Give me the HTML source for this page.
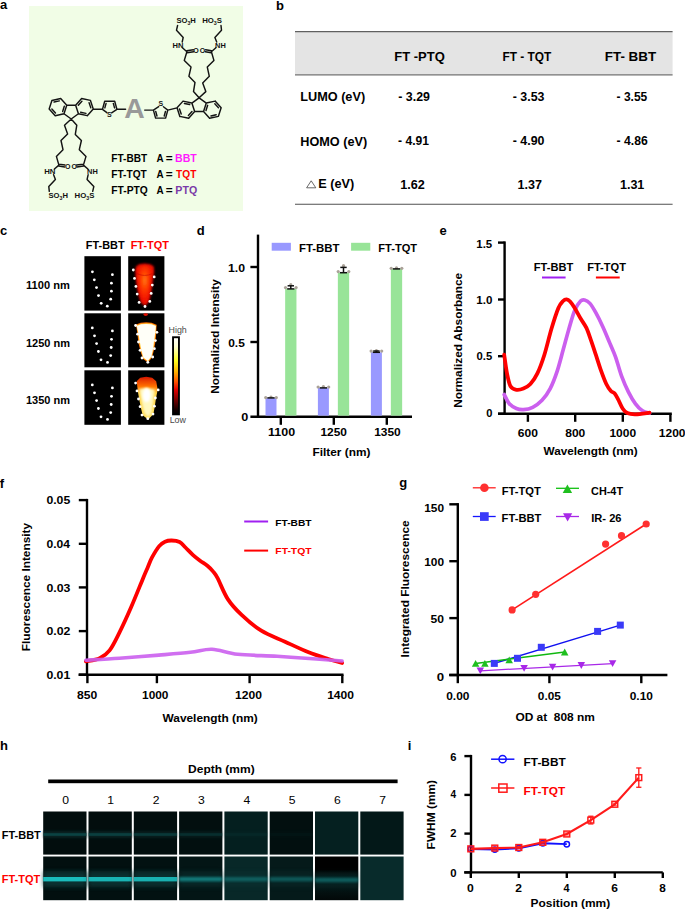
<!DOCTYPE html>
<html><head><meta charset="utf-8"><title>Figure</title>
<style>html,body{margin:0;padding:0;background:#fff;width:685px;height:910px;overflow:hidden;font-family:"Liberation Sans",sans-serif;}svg{display:block}</style>
</head><body>
<svg width="685" height="910" viewBox="0 0 685 910" font-family="Liberation Sans, sans-serif"><defs><filter id="bl1" x="-50%" y="-50%" width="200%" height="200%"><feGaussianBlur stdDeviation="2.2"/></filter><filter id="bl2" x="-50%" y="-50%" width="200%" height="200%"><feGaussianBlur stdDeviation="1.0"/></filter><filter id="bl3" x="-50%" y="-50%" width="200%" height="200%"><feGaussianBlur stdDeviation="0.5"/></filter><radialGradient id="g1100" cx="0.5" cy="0.38" r="0.55"><stop offset="0" stop-color="#ff7a10"/><stop offset="0.45" stop-color="#ff3a00"/><stop offset="1" stop-color="#f01000"/></radialGradient><linearGradient id="g1350" x1="0" y1="0" x2="0" y2="1"><stop offset="0" stop-color="#d81800"/><stop offset="0.22" stop-color="#ff7000"/><stop offset="0.38" stop-color="#ffd040"/><stop offset="1" stop-color="#ffe060"/></linearGradient><linearGradient id="cbar" x1="0" y1="0" x2="0" y2="1"><stop offset="0" stop-color="#ffffff"/><stop offset="0.12" stop-color="#ffffd0"/><stop offset="0.3" stop-color="#ffff20"/><stop offset="0.45" stop-color="#ffb000"/><stop offset="0.58" stop-color="#ff5000"/><stop offset="0.68" stop-color="#e00000"/><stop offset="0.82" stop-color="#700000"/><stop offset="0.95" stop-color="#100000"/><stop offset="1" stop-color="#000"/></linearGradient><linearGradient id="h1g0" x1="0" y1="0" x2="0" y2="1"><stop offset="0" stop-color="#020d0d"/><stop offset="1" stop-color="#020d0d"/></linearGradient><linearGradient id="h1g1" x1="0" y1="0" x2="0" y2="1"><stop offset="0" stop-color="#020d0d"/><stop offset="1" stop-color="#020d0d"/></linearGradient><linearGradient id="h1g2" x1="0" y1="0" x2="0" y2="1"><stop offset="0" stop-color="#020e0e"/><stop offset="1" stop-color="#020e0e"/></linearGradient><linearGradient id="h1g3" x1="0" y1="0" x2="0" y2="1"><stop offset="0" stop-color="#020f0f"/><stop offset="1" stop-color="#020f0f"/></linearGradient><linearGradient id="h1g4" x1="0" y1="0" x2="0" y2="1"><stop offset="0" stop-color="#041f1f"/><stop offset="1" stop-color="#041f1f"/></linearGradient><linearGradient id="h1g5" x1="0" y1="0" x2="0" y2="1"><stop offset="0" stop-color="#020f0f"/><stop offset="1" stop-color="#020f0f"/></linearGradient><linearGradient id="h1g6" x1="0" y1="0" x2="0" y2="1"><stop offset="0" stop-color="#052020"/><stop offset="1" stop-color="#052020"/></linearGradient><linearGradient id="h2g6" x1="0" y1="0" x2="0" y2="1"><stop offset="0" stop-color="#000"/><stop offset="0.3" stop-color="#000"/><stop offset="0.5" stop-color="#041a1a"/><stop offset="0.75" stop-color="#041414"/><stop offset="1" stop-color="#020808"/></linearGradient><linearGradient id="h1g7" x1="0" y1="0" x2="0" y2="1"><stop offset="0" stop-color="#031818"/><stop offset="1" stop-color="#031818"/></linearGradient></defs><text x="0.00" y="8.90" font-size="13" font-weight="bold" fill="#000" text-anchor="start" >a</text>
<text x="276.00" y="9.50" font-size="13" font-weight="bold" fill="#000" text-anchor="start" >b</text>
<text x="0.00" y="234.90" font-size="13" font-weight="bold" fill="#000" text-anchor="start" >c</text>
<text x="196.80" y="234.60" font-size="13" font-weight="bold" fill="#000" text-anchor="start" >d</text>
<text x="439.50" y="234.60" font-size="13" font-weight="bold" fill="#000" text-anchor="start" >e</text>
<text x="-0.20" y="487.60" font-size="13" font-weight="bold" fill="#000" text-anchor="start" >f</text>
<text x="399.20" y="487.40" font-size="13" font-weight="bold" fill="#000" text-anchor="start" >g</text>
<text x="0.00" y="750.10" font-size="13" font-weight="bold" fill="#000" text-anchor="start" >h</text>
<text x="407.80" y="750.20" font-size="13" font-weight="bold" fill="#000" text-anchor="start" >i</text>
<rect x="29.00" y="6.00" width="214.00" height="205.00" fill="#F1FDE6" />
<path d="M71.20,119.00L63.99,113.76 M63.99,113.76L66.75,105.29 M66.75,105.29L75.66,105.29 M75.66,105.29L78.41,113.76 M78.41,113.76L71.20,119.00 M64.01,113.78L66.75,105.21 M66.75,105.21L60.70,98.55 M60.70,98.55L51.90,100.46 M51.90,100.46L49.16,109.03 M49.16,109.03L55.21,115.69 M55.21,115.69L64.01,113.78 M75.63,105.28L78.45,113.83 M78.45,113.83L87.26,115.66 M87.26,115.66L93.26,108.95 M93.26,108.95L90.44,100.40 M90.44,100.40L81.63,98.57 M81.63,98.57L75.63,105.28 M58.90,165.10L54.40,169.00 M83.40,165.10L87.90,169.00 M62.65,111.46L64.30,106.31 M59.36,100.88L54.09,102.03 M51.85,109.01L55.48,113.01 M80.62,112.24L85.91,113.34 M90.79,107.87L89.10,102.74 M81.92,101.24L78.32,105.27 M102.50,109.30L104.70,101.30 M104.70,101.30L114.70,101.30 M114.70,101.30L116.90,109.30 M102.50,109.30L106.89,112.64 M116.90,109.30L111.62,112.80 M104.85,107.91L106.08,103.43 M113.32,103.43L114.55,107.91 M116.90,109.30L125.60,109.30 M93.26,108.95L102.50,109.30 M71.20,119.00L64.50,125.20L67.60,133.90L61.00,140.50L63.00,149.70L56.40,156.40L58.90,165.10 M71.20,119.00L76.80,125.20L75.30,134.40L81.40,140.50L79.30,149.70L86.00,156.40L83.40,165.10 M53.60,174.80L55.40,179.40L48.80,186.60L49.30,191.30 M88.10,174.80L87.10,179.40L93.80,186.60L92.70,191.30 M59.05,164.11L64.95,165.01 M58.75,166.09L64.65,166.99 M83.54,166.09L76.94,166.99 M83.26,164.11L76.66,165.01 M199.10,97.80L206.31,103.04 M206.31,103.04L203.56,111.51 M203.56,111.51L194.65,111.51 M194.65,111.51L191.89,103.04 M191.89,103.04L199.10,97.80 M206.29,103.02L203.55,111.59 M203.55,111.59L209.60,118.25 M209.60,118.25L218.40,116.34 M218.40,116.34L221.14,107.77 M221.14,107.77L215.09,101.11 M215.09,101.11L206.29,103.02 M194.67,111.52L191.85,102.97 M191.85,102.97L183.04,101.14 M183.04,101.14L177.04,107.85 M177.04,107.85L179.86,116.40 M179.86,116.40L188.67,118.23 M188.67,118.23L194.67,111.52 M211.40,51.70L215.90,47.80 M186.90,51.70L182.40,47.80 M207.65,105.34L206.00,110.49 M210.94,115.92L216.21,114.77 M218.45,107.79L214.82,103.79 M189.68,104.56L184.39,103.46 M179.51,108.93L181.20,114.06 M188.38,115.56L191.98,111.53 M167.80,110.10L165.60,118.10 M165.60,118.10L155.60,118.10 M155.60,118.10L153.40,110.10 M167.80,110.10L163.41,106.76 M153.40,110.10L158.68,106.60 M165.45,111.49L164.22,115.97 M156.98,115.97L155.75,111.49 M153.40,110.10L144.70,110.10 M177.04,107.85L167.80,110.10 M199.10,97.80L205.80,91.60L202.70,82.90L209.30,76.30L207.30,67.10L213.90,60.40L211.40,51.70 M199.10,97.80L193.50,91.60L195.00,82.40L188.90,76.30L191.00,67.10L184.30,60.40L186.90,51.70 M216.70,42.00L214.90,37.40L221.50,30.20L221.00,25.50 M182.20,42.00L183.20,37.40L176.50,30.20L177.60,25.50 M211.25,52.69L205.35,51.79 M211.55,50.71L205.65,49.81 M186.76,50.71L193.36,49.81 M187.04,52.69L193.64,51.79" fill="none" stroke="#141414" stroke-width="1.45" stroke-linecap="round" stroke-linejoin="round"/>
<text x="106.90" y="117.00" font-size="7.0" font-weight="bold" fill="#141414" textLength="4.67" lengthAdjust="spacingAndGlyphs" >S</text>
<text x="158.50" y="105.90" font-size="7.0" font-weight="bold" fill="#141414" textLength="4.67" lengthAdjust="spacingAndGlyphs" >S</text>
<text x="44.17" y="173.90" font-size="7.1" font-weight="bold" fill="#111" textLength="11.25" lengthAdjust="spacingAndGlyphs" >HN</text>
<text x="87.10" y="173.90" font-size="7.1" font-weight="bold" fill="#111" textLength="10.69" lengthAdjust="spacingAndGlyphs" >NH</text>
<text x="65.12" y="169.00" font-size="7.6" font-weight="bold" fill="#111" textLength="5.48" lengthAdjust="spacingAndGlyphs" >O</text>
<text x="71.62" y="169.00" font-size="7.6" font-weight="bold" fill="#111" textLength="5.48" lengthAdjust="spacingAndGlyphs" >O</text>
<text x="48.50" y="197.80" font-size="7.4" font-weight="bold" fill="#111" textLength="19.40" lengthAdjust="spacingAndGlyphs">SO<tspan font-size="5.03" dy="1.7">3</tspan><tspan dy="-1.7">H</tspan></text>
<text x="74.60" y="197.80" font-size="7.4" font-weight="bold" fill="#111" textLength="19.80" lengthAdjust="spacingAndGlyphs">HO<tspan font-size="5.03" dy="1.7">3</tspan><tspan dy="-1.7">S</tspan></text>
<text x="172.49" y="48.00" font-size="7.1" font-weight="bold" fill="#111" textLength="10.92" lengthAdjust="spacingAndGlyphs" >HN</text>
<text x="215.10" y="48.00" font-size="7.1" font-weight="bold" fill="#111" textLength="10.69" lengthAdjust="spacingAndGlyphs" >NH</text>
<text x="193.22" y="52.80" font-size="7.6" font-weight="bold" fill="#111" textLength="5.48" lengthAdjust="spacingAndGlyphs" >O</text>
<text x="199.72" y="52.80" font-size="7.6" font-weight="bold" fill="#111" textLength="5.48" lengthAdjust="spacingAndGlyphs" >O</text>
<text x="176.40" y="23.00" font-size="7.4" font-weight="bold" fill="#111" textLength="19.40" lengthAdjust="spacingAndGlyphs">SO<tspan font-size="5.03" dy="1.7">3</tspan><tspan dy="-1.7">H</tspan></text>
<text x="202.20" y="23.00" font-size="7.4" font-weight="bold" fill="#111" textLength="19.80" lengthAdjust="spacingAndGlyphs">HO<tspan font-size="5.03" dy="1.7">3</tspan><tspan dy="-1.7">S</tspan></text>
<text x="124.19" y="118.40" font-size="27.5" font-weight="bold" fill="#999999" textLength="20.48" lengthAdjust="spacingAndGlyphs" >A</text>
<text x="111.32" y="161.70" font-size="10.2" font-weight="bold" fill="#000" textLength="35.78" lengthAdjust="spacingAndGlyphs" >FT-BBT</text>
<text x="156.55" y="161.70" font-size="10.2" font-weight="bold" fill="#000" textLength="7.11" lengthAdjust="spacingAndGlyphs" >A</text>
<text x="165.80" y="161.70" font-size="10.2" font-weight="bold" fill="#000" textLength="6.89" lengthAdjust="spacingAndGlyphs" >=</text>
<text x="175.09" y="161.70" font-size="10.2" font-weight="bold" fill="#ff1aff" textLength="21.72" lengthAdjust="spacingAndGlyphs" >BBT</text>
<text x="111.32" y="177.70" font-size="10.2" font-weight="bold" fill="#000" textLength="35.40" lengthAdjust="spacingAndGlyphs" >FT-TQT</text>
<text x="156.55" y="177.70" font-size="10.2" font-weight="bold" fill="#000" textLength="7.11" lengthAdjust="spacingAndGlyphs" >A</text>
<text x="165.80" y="177.70" font-size="10.2" font-weight="bold" fill="#000" textLength="6.89" lengthAdjust="spacingAndGlyphs" >=</text>
<text x="176.10" y="177.70" font-size="10.2" font-weight="bold" fill="#ff0000" textLength="20.22" lengthAdjust="spacingAndGlyphs" >TQT</text>
<text x="111.31" y="193.70" font-size="10.2" font-weight="bold" fill="#000" textLength="36.43" lengthAdjust="spacingAndGlyphs" >FT-PTQ</text>
<text x="156.55" y="193.70" font-size="10.2" font-weight="bold" fill="#000" textLength="7.11" lengthAdjust="spacingAndGlyphs" >A</text>
<text x="165.80" y="193.70" font-size="10.2" font-weight="bold" fill="#000" textLength="6.89" lengthAdjust="spacingAndGlyphs" >=</text>
<text x="175.39" y="193.70" font-size="10.2" font-weight="bold" fill="#7a3aa8" textLength="21.77" lengthAdjust="spacingAndGlyphs" >PTQ</text>
<rect x="295.00" y="32.00" width="377.60" height="42.50" fill="#e4e4e4" />
<line x1="295.00" y1="31.60" x2="672.60" y2="31.60" stroke="#606060" stroke-width="1.4" />
<line x1="295.00" y1="74.90" x2="672.60" y2="74.90" stroke="#707070" stroke-width="1.4" />
<line x1="295.00" y1="204.20" x2="672.60" y2="204.20" stroke="#505050" stroke-width="1.1" />
<text x="394.32" y="61.30" font-size="12.5" font-weight="bold" fill="#000" textLength="50.44" lengthAdjust="spacingAndGlyphs" >FT -PTQ</text>
<text x="502.50" y="61.30" font-size="12.5" font-weight="bold" fill="#000" textLength="48.82" lengthAdjust="spacingAndGlyphs" >FT - TQT</text>
<text x="604.80" y="61.30" font-size="12.5" font-weight="bold" fill="#000" textLength="51.34" lengthAdjust="spacingAndGlyphs" >FT- BBT</text>
<text x="300.24" y="101.30" font-size="12.5" font-weight="bold" fill="#000" textLength="64.90" lengthAdjust="spacingAndGlyphs" >LUMO (eV)</text>
<text x="300.24" y="145.50" font-size="12.5" font-weight="bold" fill="#000" textLength="66.89" lengthAdjust="spacingAndGlyphs" >HOMO (eV)</text>
<path d="M306.6,187.8 L311.2,180.8 L315.8,187.8 Z" fill="none" stroke="#444" stroke-width="0.8" />
<text x="318.34" y="188.10" font-size="12.5" font-weight="bold" fill="#000" textLength="35.91" lengthAdjust="spacingAndGlyphs" >E (eV)</text>
<text x="398.30" y="101.20" font-size="12.3" font-weight="bold" fill="#000" textLength="31.66" lengthAdjust="spacingAndGlyphs" >- 3.29</text>
<text x="512.80" y="101.20" font-size="12.3" font-weight="bold" fill="#000" textLength="31.66" lengthAdjust="spacingAndGlyphs" >- 3.53</text>
<text x="616.62" y="101.20" font-size="12.3" font-weight="bold" fill="#000" textLength="30.64" lengthAdjust="spacingAndGlyphs" >- 3.55</text>
<text x="398.12" y="145.40" font-size="12.3" font-weight="bold" fill="#000" textLength="30.94" lengthAdjust="spacingAndGlyphs" >- 4.91</text>
<text x="512.80" y="145.40" font-size="12.3" font-weight="bold" fill="#000" textLength="31.72" lengthAdjust="spacingAndGlyphs" >- 4.90</text>
<text x="616.61" y="145.40" font-size="12.3" font-weight="bold" fill="#000" textLength="31.14" lengthAdjust="spacingAndGlyphs" >- 4.86</text>
<text x="400.21" y="188.60" font-size="12.3" font-weight="bold" fill="#000" textLength="24.58" lengthAdjust="spacingAndGlyphs" >1.62</text>
<text x="517.52" y="188.60" font-size="12.3" font-weight="bold" fill="#000" textLength="24.44" lengthAdjust="spacingAndGlyphs" >1.37</text>
<text x="619.91" y="188.60" font-size="12.3" font-weight="bold" fill="#000" textLength="24.45" lengthAdjust="spacingAndGlyphs" >1.31</text>
<text x="26.01" y="289.00" font-size="10.6" font-weight="bold" fill="#000" textLength="43.79" lengthAdjust="spacingAndGlyphs" >1100 nm</text>
<text x="25.91" y="347.10" font-size="10.6" font-weight="bold" fill="#000" textLength="44.08" lengthAdjust="spacingAndGlyphs" >1250 nm</text>
<text x="25.91" y="403.70" font-size="10.6" font-weight="bold" fill="#000" textLength="44.08" lengthAdjust="spacingAndGlyphs" >1350 nm</text>
<text x="85.86" y="249.30" font-size="10.3" font-weight="bold" fill="#000" textLength="38.74" lengthAdjust="spacingAndGlyphs" >FT-BBT</text>
<text x="130.66" y="249.30" font-size="10.3" font-weight="bold" fill="#ff0000" textLength="38.27" lengthAdjust="spacingAndGlyphs" >FT-TQT</text>
<rect x="84.40" y="256.20" width="36.50" height="54.40" fill="#000" />
<circle cx="92.40" cy="271.80" r="1.4" fill="#fff"/>
<circle cx="94.30" cy="279.80" r="1.4" fill="#fff"/>
<circle cx="96.50" cy="287.60" r="1.4" fill="#fff"/>
<circle cx="98.50" cy="295.60" r="1.4" fill="#fff"/>
<circle cx="101.20" cy="303.30" r="1.4" fill="#fff"/>
<circle cx="107.30" cy="306.20" r="1.4" fill="#fff"/>
<circle cx="110.70" cy="299.20" r="1.4" fill="#fff"/>
<circle cx="111.40" cy="291.20" r="1.4" fill="#fff"/>
<circle cx="111.40" cy="283.20" r="1.4" fill="#fff"/>
<circle cx="112.40" cy="274.70" r="1.4" fill="#fff"/>
<rect x="128.20" y="256.20" width="36.20" height="54.40" fill="#000" />
<clipPath id="cp0"><rect x="128.2" y="256.2" width="36.20000000000002" height="54.400000000000034"/></clipPath>
<g clip-path="url(#cp0)"><path d="M135.20,270.20 L136.20,266.20 L139.20,264.20 L144.70,263.40 L150.20,264.20 L153.70,266.20 L154.20,271.20 L153.20,278.20 L151.20,293.20 L149.20,301.20 L145.20,306.20 L140.70,302.70 L138.20,294.20 L136.70,286.20 L135.70,278.20 Z" fill="#e80a00" filter="url(#bl2)"/><path d="M137.20,271.20 L138.20,267.70 L141.20,266.20 L144.70,265.80 L148.20,266.20 L151.70,267.70 L152.20,272.20 L150.70,279.20 L149.20,292.20 L147.40,300.20 L145.20,303.70 L142.50,300.20 L140.20,293.20 L138.70,286.20 L137.70,278.20 Z" fill="url(#g1100)" filter="url(#bl2)"/><path d="M137.20,273.70 Q144.70,277.20 152.20,273.70" fill="none" stroke="#c00800" stroke-width="0.9" opacity="0.6" filter="url(#bl3)"/></g>
<circle cx="133.30" cy="270.00" r="1.4" fill="#fff"/>
<circle cx="134.50" cy="278.40" r="1.4" fill="#fff"/>
<circle cx="135.90" cy="286.40" r="1.4" fill="#fff"/>
<circle cx="137.20" cy="294.10" r="1.4" fill="#fff"/>
<circle cx="139.10" cy="302.40" r="1.4" fill="#fff"/>
<circle cx="145.00" cy="306.50" r="1.4" fill="#fff"/>
<circle cx="149.80" cy="301.40" r="1.4" fill="#fff"/>
<circle cx="151.20" cy="293.40" r="1.4" fill="#fff"/>
<circle cx="152.30" cy="285.10" r="1.4" fill="#fff"/>
<circle cx="154.20" cy="276.90" r="1.4" fill="#fff"/>
<rect x="84.40" y="313.30" width="36.50" height="54.00" fill="#000" />
<circle cx="92.30" cy="327.90" r="1.4" fill="#fff"/>
<circle cx="94.50" cy="335.80" r="1.4" fill="#fff"/>
<circle cx="96.60" cy="343.60" r="1.4" fill="#fff"/>
<circle cx="98.40" cy="351.50" r="1.4" fill="#fff"/>
<circle cx="101.00" cy="359.80" r="1.4" fill="#fff"/>
<circle cx="107.50" cy="362.40" r="1.4" fill="#fff"/>
<circle cx="110.70" cy="355.60" r="1.4" fill="#fff"/>
<circle cx="111.20" cy="347.50" r="1.4" fill="#fff"/>
<circle cx="111.50" cy="339.30" r="1.4" fill="#fff"/>
<circle cx="112.40" cy="330.90" r="1.4" fill="#fff"/>
<rect x="128.20" y="313.30" width="36.20" height="54.00" fill="#000" />
<clipPath id="cp1"><rect x="128.2" y="313.3" width="36.20000000000002" height="54.0"/></clipPath>
<g clip-path="url(#cp1)"><ellipse cx="145.70" cy="314.50" rx="2.2" ry="1.4" fill="#e01000" filter="url(#bl3)"/><path d="M135.93,324.55 L140.71,322.78 L146.15,322.30 L151.61,322.75 L156.62,324.73 L156.33,331.67 L155.60,340.69 L154.03,350.03 L151.88,357.83 L148.00,362.50 L143.08,359.07 L140.59,351.68 L138.32,342.53 L137.39,333.25 Z" fill="#ff6a00" filter="url(#bl3)"/><path d="M136.42,325.31 L140.98,323.63 L146.18,323.20 L151.38,323.62 L156.16,325.50 L155.69,332.31 L154.70,340.75 L153.45,349.34 L151.61,356.97 L147.94,361.60 L143.26,358.19 L141.04,350.90 L139.21,342.40 L138.07,333.84 Z" fill="#ffd040" filter="url(#bl3)"/><path d="M136.80,325.90 L141.20,324.30 L146.20,323.90 L151.20,324.30 L155.80,326.10 L155.20,332.80 L154.00,340.80 L153.00,348.80 L151.40,356.30 L147.90,360.90 L143.40,357.50 L141.40,350.30 L139.90,342.30 L138.60,334.30 Z" fill="#fffff8" filter="url(#bl3)"/></g>
<circle cx="135.60" cy="325.50" r="1.4" fill="#fff"/>
<circle cx="137.60" cy="334.20" r="1.4" fill="#fff"/>
<circle cx="138.50" cy="342.00" r="1.4" fill="#fff"/>
<circle cx="140.10" cy="350.30" r="1.4" fill="#fff"/>
<circle cx="142.00" cy="358.00" r="1.4" fill="#fff"/>
<circle cx="147.80" cy="362.30" r="1.4" fill="#fff"/>
<circle cx="152.70" cy="357.00" r="1.4" fill="#fff"/>
<circle cx="154.40" cy="348.70" r="1.4" fill="#fff"/>
<circle cx="155.40" cy="340.60" r="1.4" fill="#fff"/>
<circle cx="156.90" cy="332.30" r="1.4" fill="#fff"/>
<rect x="84.40" y="370.30" width="36.50" height="54.50" fill="#000" />
<circle cx="92.30" cy="384.90" r="1.4" fill="#fff"/>
<circle cx="94.50" cy="392.80" r="1.4" fill="#fff"/>
<circle cx="96.60" cy="400.60" r="1.4" fill="#fff"/>
<circle cx="98.40" cy="408.50" r="1.4" fill="#fff"/>
<circle cx="101.00" cy="416.80" r="1.4" fill="#fff"/>
<circle cx="107.50" cy="419.40" r="1.4" fill="#fff"/>
<circle cx="110.70" cy="412.60" r="1.4" fill="#fff"/>
<circle cx="111.20" cy="404.50" r="1.4" fill="#fff"/>
<circle cx="111.50" cy="396.30" r="1.4" fill="#fff"/>
<circle cx="112.40" cy="387.90" r="1.4" fill="#fff"/>
<rect x="128.20" y="370.30" width="36.20" height="54.50" fill="#000" />
<clipPath id="cp2"><rect x="128.2" y="370.3" width="36.20000000000002" height="54.5"/></clipPath>
<g clip-path="url(#cp2)"><path d="M136.70,381.30 L140.20,377.80 L146.20,376.80 L152.20,377.80 L156.20,381.30 L157.70,389.80 L156.00,398.00 L154.80,406.20 L153.40,414.10 L148.20,419.50 L142.70,415.30 L140.70,406.90 L139.20,399.00 L137.80,390.90 Z" fill="url(#g1350)" filter="url(#bl3)"/><path d="M139.20,389.30 L146.20,387.80 L154.70,389.80 L153.70,398.30 L152.60,406.30 L151.20,413.30 L148.00,416.80 L144.50,413.30 L142.70,406.30 L141.20,398.80 Z" fill="#fff8c0" filter="url(#bl2)"/><ellipse cx="146.70" cy="395.30" rx="4" ry="7" fill="#ffffff" filter="url(#bl2)"/></g>
<circle cx="135.60" cy="383.10" r="1.4" fill="#fff"/>
<circle cx="137.00" cy="390.90" r="1.4" fill="#fff"/>
<circle cx="138.50" cy="399.00" r="1.4" fill="#fff"/>
<circle cx="140.10" cy="406.70" r="1.4" fill="#fff"/>
<circle cx="142.00" cy="415.10" r="1.4" fill="#fff"/>
<circle cx="147.80" cy="418.70" r="1.4" fill="#fff"/>
<circle cx="153.00" cy="414.10" r="1.4" fill="#fff"/>
<circle cx="154.40" cy="406.20" r="1.4" fill="#fff"/>
<circle cx="155.40" cy="398.00" r="1.4" fill="#fff"/>
<circle cx="158.20" cy="389.90" r="1.4" fill="#fff"/>
<rect x="173.05" y="337.25" width="5.90" height="77.10" fill="url(#cbar)" stroke="#000" stroke-width="1.9"/>
<text x="168.57" y="333.00" font-size="8.7"  fill="#4a4a4a" textLength="18.20" lengthAdjust="spacingAndGlyphs" >High</text>
<text x="169.67" y="423.20" font-size="8.7"  fill="#4a4a4a" textLength="16.31" lengthAdjust="spacingAndGlyphs" >Low</text>
<line x1="258.00" y1="234.60" x2="258.00" y2="418.00" stroke="#000" stroke-width="2.4" />
<line x1="250.40" y1="416.80" x2="412.00" y2="416.80" stroke="#000" stroke-width="2.4" />
<line x1="250.40" y1="267.00" x2="257.80" y2="267.00" stroke="#000" stroke-width="2.4" />
<line x1="250.40" y1="342.00" x2="257.80" y2="342.00" stroke="#000" stroke-width="2.4" />
<text x="227.93" y="272.30" font-size="10.8" font-weight="bold" fill="#000" textLength="17.06" lengthAdjust="spacingAndGlyphs" >1.0</text>
<text x="228.22" y="346.50" font-size="10.8" font-weight="bold" fill="#000" textLength="16.61" lengthAdjust="spacingAndGlyphs" >0.5</text>
<text x="241.39" y="420.50" font-size="10.8" font-weight="bold" fill="#000" textLength="7.03" lengthAdjust="spacingAndGlyphs" >0</text>
<text x="0" y="0" font-size="11.8" font-weight="bold" fill="#000" textLength="114.45" lengthAdjust="spacingAndGlyphs" transform="translate(218.60,393.69) rotate(-90)">Normalized Intensity</text>
<rect x="265.50" y="397.90" width="11.00" height="17.70" fill="#9999ff" />
<circle cx="265.70" cy="397.60" r="1.6" fill="#aaa298"/>
<circle cx="271.00" cy="397.00" r="1.6" fill="#aaa298"/>
<circle cx="276.30" cy="397.60" r="1.6" fill="#aaa298"/>
<line x1="267.40" y1="397.90" x2="274.60" y2="397.90" stroke="#111" stroke-width="1.5" />
<rect x="317.90" y="387.90" width="11.00" height="27.70" fill="#9999ff" />
<circle cx="318.10" cy="387.00" r="1.6" fill="#aaa298"/>
<circle cx="323.40" cy="386.50" r="1.6" fill="#aaa298"/>
<circle cx="328.70" cy="387.00" r="1.6" fill="#aaa298"/>
<line x1="319.80" y1="387.90" x2="327.00" y2="387.90" stroke="#111" stroke-width="1.5" />
<rect x="370.90" y="352.30" width="11.00" height="63.30" fill="#9999ff" />
<circle cx="371.10" cy="351.10" r="1.6" fill="#aaa298"/>
<circle cx="376.40" cy="350.70" r="1.6" fill="#aaa298"/>
<circle cx="381.70" cy="351.10" r="1.6" fill="#aaa298"/>
<line x1="372.80" y1="352.30" x2="380.00" y2="352.30" stroke="#111" stroke-width="1.5" />
<line x1="376.40" y1="352.30" x2="376.40" y2="351.00" stroke="#111" stroke-width="1.5" />
<line x1="373.20" y1="351.00" x2="379.60" y2="351.00" stroke="#111" stroke-width="1.5" />
<rect x="285.15" y="288.90" width="11.30" height="126.70" fill="#98e498" />
<circle cx="285.50" cy="287.60" r="1.6" fill="#aaa298"/>
<circle cx="290.80" cy="284.70" r="1.6" fill="#aaa298"/>
<circle cx="296.10" cy="287.60" r="1.6" fill="#aaa298"/>
<line x1="287.20" y1="288.90" x2="294.40" y2="288.90" stroke="#111" stroke-width="1.5" />
<line x1="290.80" y1="288.90" x2="290.80" y2="285.80" stroke="#111" stroke-width="1.5" />
<line x1="287.60" y1="285.80" x2="294.00" y2="285.80" stroke="#111" stroke-width="1.5" />
<rect x="337.85" y="272.70" width="11.30" height="142.90" fill="#98e498" />
<circle cx="338.20" cy="271.60" r="1.6" fill="#aaa298"/>
<circle cx="343.50" cy="265.70" r="1.6" fill="#aaa298"/>
<circle cx="348.80" cy="271.60" r="1.6" fill="#aaa298"/>
<line x1="339.90" y1="272.70" x2="347.10" y2="272.70" stroke="#111" stroke-width="1.5" />
<line x1="343.50" y1="272.70" x2="343.50" y2="267.40" stroke="#111" stroke-width="1.5" />
<line x1="340.30" y1="267.40" x2="346.70" y2="267.40" stroke="#111" stroke-width="1.5" />
<rect x="390.85" y="268.90" width="11.30" height="146.70" fill="#98e498" />
<circle cx="391.20" cy="268.30" r="1.6" fill="#aaa298"/>
<circle cx="396.50" cy="267.90" r="1.6" fill="#aaa298"/>
<circle cx="401.80" cy="268.30" r="1.6" fill="#aaa298"/>
<line x1="392.90" y1="268.90" x2="400.10" y2="268.90" stroke="#111" stroke-width="1.5" />
<line x1="280.80" y1="418.00" x2="280.80" y2="424.80" stroke="#000" stroke-width="2.4" />
<line x1="333.80" y1="418.00" x2="333.80" y2="424.80" stroke="#000" stroke-width="2.4" />
<line x1="386.80" y1="418.00" x2="386.80" y2="424.80" stroke="#000" stroke-width="2.4" />
<text x="268.12" y="436.40" font-size="11" font-weight="bold" fill="#000" textLength="27.00" lengthAdjust="spacingAndGlyphs" >1100</text>
<text x="320.46" y="436.40" font-size="11" font-weight="bold" fill="#000" textLength="26.44" lengthAdjust="spacingAndGlyphs" >1250</text>
<text x="374.15" y="436.40" font-size="11" font-weight="bold" fill="#000" textLength="26.55" lengthAdjust="spacingAndGlyphs" >1350</text>
<text x="312.50" y="455.50" font-size="11.3" font-weight="bold" fill="#000" textLength="57.91" lengthAdjust="spacingAndGlyphs" >Filter (nm)</text>
<rect x="271.70" y="242.80" width="19.20" height="7.90" fill="#9999ff" />
<text x="298.93" y="251.70" font-size="11" font-weight="bold" fill="#000" textLength="40.58" lengthAdjust="spacingAndGlyphs" >FT-BBT</text>
<rect x="351.10" y="242.80" width="19.20" height="7.90" fill="#98e498" />
<text x="378.35" y="251.70" font-size="11" font-weight="bold" fill="#000" textLength="38.78" lengthAdjust="spacingAndGlyphs" >FT-TQT</text>
<line x1="504.60" y1="241.40" x2="504.60" y2="415.00" stroke="#000" stroke-width="2.4" />
<line x1="498.00" y1="413.80" x2="671.80" y2="413.80" stroke="#000" stroke-width="2.4" />
<line x1="498.00" y1="242.60" x2="504.60" y2="242.60" stroke="#000" stroke-width="2.4" />
<text x="476.28" y="247.60" font-size="10.8" font-weight="bold" fill="#000" textLength="15.93" lengthAdjust="spacingAndGlyphs" >1.5</text>
<line x1="498.00" y1="299.50" x2="504.60" y2="299.50" stroke="#000" stroke-width="2.4" />
<text x="476.28" y="303.70" font-size="10.8" font-weight="bold" fill="#000" textLength="16.09" lengthAdjust="spacingAndGlyphs" >1.0</text>
<line x1="498.00" y1="356.20" x2="504.60" y2="356.20" stroke="#000" stroke-width="2.4" />
<text x="476.55" y="360.10" font-size="10.8" font-weight="bold" fill="#000" textLength="15.66" lengthAdjust="spacingAndGlyphs" >0.5</text>
<line x1="498.00" y1="413.80" x2="504.60" y2="413.80" stroke="#000" stroke-width="2.4" />
<text x="486.15" y="417.00" font-size="10.8" font-weight="bold" fill="#000" textLength="6.21" lengthAdjust="spacingAndGlyphs" >0</text>
<line x1="527.90" y1="413.80" x2="527.90" y2="421.80" stroke="#000" stroke-width="2.4" />
<text x="517.85" y="436.90" font-size="10.8" font-weight="bold" fill="#000" textLength="20.15" lengthAdjust="spacingAndGlyphs" >600</text>
<line x1="575.20" y1="413.80" x2="575.20" y2="421.80" stroke="#000" stroke-width="2.4" />
<text x="565.21" y="436.90" font-size="10.8" font-weight="bold" fill="#000" textLength="20.08" lengthAdjust="spacingAndGlyphs" >800</text>
<line x1="622.80" y1="413.80" x2="622.80" y2="421.80" stroke="#000" stroke-width="2.4" />
<text x="609.45" y="436.90" font-size="10.8" font-weight="bold" fill="#000" textLength="26.65" lengthAdjust="spacingAndGlyphs" >1000</text>
<line x1="670.40" y1="413.80" x2="670.40" y2="421.80" stroke="#000" stroke-width="2.4" />
<text x="658.85" y="436.90" font-size="10.8" font-weight="bold" fill="#000" textLength="26.65" lengthAdjust="spacingAndGlyphs" >1200</text>
<text x="543.50" y="454.80" font-size="11.3" font-weight="bold" fill="#000" textLength="94.20" lengthAdjust="spacingAndGlyphs" >Wavelength (nm)</text>
<text x="0" y="0" font-size="11.8" font-weight="bold" fill="#000" textLength="134.99" lengthAdjust="spacingAndGlyphs" transform="translate(461.60,407.80) rotate(-90)">Normalized Absorbance</text>
<path d="M504.20,394.50 C505.05,396.05 507.27,401.47 509.30,403.80 C511.33,406.13 514.05,407.53 516.40,408.50 C518.75,409.47 520.68,409.80 523.40,409.60 C526.12,409.40 529.60,408.85 532.70,407.30 C535.80,405.75 539.08,403.42 542.00,400.30 C544.92,397.18 547.67,393.47 550.20,388.60 C552.73,383.73 555.05,377.52 557.20,371.10 C559.35,364.68 561.15,357.12 563.10,350.10 C565.05,343.08 566.97,335.62 568.90,329.00 C570.83,322.38 572.75,315.07 574.70,310.40 C576.65,305.73 578.95,302.73 580.60,301.00 C582.25,299.27 583.05,299.60 584.60,300.00 C586.15,300.40 588.03,301.28 589.90,303.40 C591.77,305.52 593.65,308.82 595.80,312.70 C597.95,316.58 600.47,321.63 602.80,326.70 C605.13,331.77 607.67,338.03 609.80,343.10 C611.93,348.17 613.65,351.65 615.60,357.10 C617.55,362.55 619.35,369.97 621.50,375.80 C623.65,381.63 626.17,387.43 628.50,392.10 C630.83,396.77 633.17,400.68 635.50,403.80 C637.83,406.92 640.17,409.25 642.50,410.80 C644.83,412.35 648.33,412.72 649.50,413.10" fill="none" stroke="#cb5fee" stroke-width="3.7" stroke-linejoin="round" stroke-linecap="round"/>
<path d="M504.20,354.70 C504.67,357.82 505.95,368.13 507.00,373.40 C508.05,378.67 508.93,383.57 510.50,386.30 C512.07,389.03 514.25,389.42 516.40,389.80 C518.55,390.18 521.07,389.57 523.40,388.60 C525.73,387.63 528.07,386.53 530.40,384.00 C532.73,381.47 535.07,378.28 537.40,373.40 C539.73,368.52 542.07,362.10 544.40,354.70 C546.73,347.30 549.07,336.78 551.40,329.00 C553.73,321.22 556.45,312.67 558.40,308.00 C560.35,303.33 561.73,302.43 563.10,301.00 C564.47,299.57 565.43,299.32 566.60,299.40 C567.77,299.48 568.75,300.07 570.10,301.50 C571.45,302.93 572.95,305.17 574.70,308.00 C576.45,310.83 578.65,315.18 580.60,318.50 C582.55,321.82 584.65,324.20 586.40,327.90 C588.15,331.60 589.53,336.23 591.10,340.70 C592.67,345.17 594.25,350.02 595.80,354.70 C597.35,359.38 598.65,363.92 600.40,368.80 C602.15,373.68 604.55,380.30 606.30,384.00 C608.05,387.70 609.53,389.45 610.90,391.00 C612.27,392.55 613.32,391.95 614.50,393.30 C615.68,394.65 616.65,396.57 618.00,399.10 C619.35,401.63 621.05,406.17 622.60,408.50 C624.15,410.83 625.15,412.13 627.30,413.10 C629.45,414.07 631.80,414.37 635.50,414.30 C639.20,414.23 647.17,412.97 649.50,412.70" fill="none" stroke="#ff0000" stroke-width="3.8" stroke-linejoin="round" stroke-linecap="round"/>
<text x="533.85" y="270.60" font-size="10.5" font-weight="bold" fill="#000" textLength="39.46" lengthAdjust="spacingAndGlyphs" >FT-BBT</text>
<text x="587.15" y="270.60" font-size="10.5" font-weight="bold" fill="#000" textLength="38.78" lengthAdjust="spacingAndGlyphs" >FT-TQT</text>
<line x1="542.00" y1="277.50" x2="565.60" y2="277.50" stroke="#a020f0" stroke-width="2.0" />
<line x1="595.90" y1="277.50" x2="619.70" y2="277.50" stroke="#ff0000" stroke-width="2.0" />
<line x1="87.00" y1="498.90" x2="87.00" y2="675.90" stroke="#000" stroke-width="2.4" />
<line x1="78.60" y1="674.70" x2="343.50" y2="674.70" stroke="#000" stroke-width="2.4" />
<line x1="78.80" y1="500.10" x2="87.00" y2="500.10" stroke="#000" stroke-width="2.4" />
<text x="46.41" y="504.30" font-size="10.8" font-weight="bold" fill="#000" textLength="23.84" lengthAdjust="spacingAndGlyphs" >0.05</text>
<line x1="78.80" y1="543.80" x2="87.00" y2="543.80" stroke="#000" stroke-width="2.4" />
<text x="46.42" y="548.00" font-size="10.8" font-weight="bold" fill="#000" textLength="23.56" lengthAdjust="spacingAndGlyphs" >0.04</text>
<line x1="78.80" y1="587.40" x2="87.00" y2="587.40" stroke="#000" stroke-width="2.4" />
<text x="46.41" y="591.60" font-size="10.8" font-weight="bold" fill="#000" textLength="23.94" lengthAdjust="spacingAndGlyphs" >0.03</text>
<line x1="78.80" y1="631.10" x2="87.00" y2="631.10" stroke="#000" stroke-width="2.4" />
<text x="46.41" y="635.30" font-size="10.8" font-weight="bold" fill="#000" textLength="23.97" lengthAdjust="spacingAndGlyphs" >0.02</text>
<line x1="78.80" y1="674.70" x2="87.00" y2="674.70" stroke="#000" stroke-width="2.4" />
<text x="46.41" y="678.90" font-size="10.8" font-weight="bold" fill="#000" textLength="23.84" lengthAdjust="spacingAndGlyphs" >0.01</text>
<line x1="87.40" y1="674.70" x2="87.40" y2="683.20" stroke="#000" stroke-width="2.4" />
<text x="77.00" y="699.10" font-size="10.8" font-weight="bold" fill="#000" textLength="20.29" lengthAdjust="spacingAndGlyphs" >850</text>
<line x1="156.90" y1="674.70" x2="156.90" y2="683.20" stroke="#000" stroke-width="2.4" />
<text x="142.06" y="699.10" font-size="10.8" font-weight="bold" fill="#000" textLength="26.44" lengthAdjust="spacingAndGlyphs" >1000</text>
<line x1="249.60" y1="674.70" x2="249.60" y2="683.20" stroke="#000" stroke-width="2.4" />
<text x="234.94" y="699.10" font-size="10.8" font-weight="bold" fill="#000" textLength="26.97" lengthAdjust="spacingAndGlyphs" >1200</text>
<line x1="342.30" y1="674.70" x2="342.30" y2="683.20" stroke="#000" stroke-width="2.4" />
<text x="327.15" y="699.10" font-size="10.8" font-weight="bold" fill="#000" textLength="26.86" lengthAdjust="spacingAndGlyphs" >1400</text>
<text x="162.50" y="721.70" font-size="11.3" font-weight="bold" fill="#000" textLength="95.31" lengthAdjust="spacingAndGlyphs" >Wavelength (nm)</text>
<text x="0" y="0" font-size="11.8" font-weight="bold" fill="#000" textLength="128.29" lengthAdjust="spacingAndGlyphs" transform="translate(29.60,651.20) rotate(-90)">Fluorescence Intensity</text>
<path d="M85.90,661.40 C88.20,660.87 95.75,660.03 99.70,658.20 C103.65,656.37 106.32,654.67 109.60,650.40 C112.88,646.13 115.80,639.83 119.40,632.60 C123.00,625.37 127.25,616.07 131.20,607.00 C135.15,597.93 140.38,584.70 143.10,578.20 C145.82,571.70 146.03,571.42 147.50,568.00 C148.97,564.58 149.95,561.35 151.90,557.70 C153.85,554.05 157.02,548.77 159.20,546.10 C161.38,543.43 162.93,542.63 165.00,541.70 C167.07,540.77 169.17,540.45 171.60,540.50 C174.03,540.55 177.28,540.83 179.60,542.00 C181.92,543.17 183.30,545.37 185.50,547.50 C187.70,549.63 190.37,552.60 192.80,554.80 C195.23,557.00 197.67,558.87 200.10,560.70 C202.53,562.53 205.22,563.98 207.40,565.80 C209.58,567.62 211.50,569.53 213.20,571.60 C214.90,573.67 215.17,573.62 217.60,578.20 C220.03,582.78 223.80,592.98 227.80,599.10 C231.80,605.22 236.02,609.63 241.60,614.90 C247.18,620.17 254.07,626.23 261.30,630.70 C268.53,635.17 277.12,638.10 285.00,641.70 C292.88,645.30 301.38,649.42 308.60,652.30 C315.82,655.18 322.72,657.22 328.30,659.00 C333.88,660.78 339.80,662.33 342.10,663.00" fill="none" stroke="#ff0000" stroke-width="3.8" stroke-linejoin="round" stroke-linecap="round"/>
<path d="M85.90,660.20 C91.48,659.87 107.25,659.05 119.40,658.20 C131.55,657.35 146.97,656.08 158.80,655.10 C170.63,654.12 181.53,653.28 190.40,652.30 C199.27,651.32 204.12,648.87 212.00,649.20 C219.88,649.53 226.85,653.12 237.70,654.30 C248.55,655.48 263.97,655.52 277.10,656.30 C290.23,657.08 305.67,658.22 316.50,659.00 C327.33,659.78 337.83,660.67 342.10,661.00" fill="none" stroke="#cb5fee" stroke-width="3.6" stroke-linejoin="round" stroke-linecap="round" opacity="0.9"/>
<line x1="244.20" y1="521.50" x2="268.10" y2="521.50" stroke="#a020f0" stroke-width="2.0" />
<text x="275.31" y="525.80" font-size="9.8" font-weight="bold" fill="#000" textLength="36.29" lengthAdjust="spacingAndGlyphs" >FT-BBT</text>
<line x1="244.20" y1="550.60" x2="268.10" y2="550.60" stroke="#ff0000" stroke-width="2.0" />
<text x="275.30" y="554.40" font-size="9.8" font-weight="bold" fill="#ff0000" textLength="36.32" lengthAdjust="spacingAndGlyphs" >FT-TQT</text>
<line x1="457.80" y1="503.10" x2="457.80" y2="676.20" stroke="#000" stroke-width="2.4" />
<line x1="449.20" y1="675.00" x2="667.40" y2="675.00" stroke="#000" stroke-width="2.4" />
<line x1="449.30" y1="504.30" x2="457.80" y2="504.30" stroke="#000" stroke-width="2.4" />
<text x="424.26" y="511.60" font-size="10.8" font-weight="bold" fill="#000" textLength="19.83" lengthAdjust="spacingAndGlyphs" >150</text>
<line x1="449.30" y1="561.20" x2="457.80" y2="561.20" stroke="#000" stroke-width="2.4" />
<text x="424.26" y="565.60" font-size="10.8" font-weight="bold" fill="#000" textLength="19.83" lengthAdjust="spacingAndGlyphs" >100</text>
<line x1="449.30" y1="618.10" x2="457.80" y2="618.10" stroke="#000" stroke-width="2.4" />
<text x="430.64" y="623.00" font-size="10.8" font-weight="bold" fill="#000" textLength="13.48" lengthAdjust="spacingAndGlyphs" >50</text>
<line x1="449.30" y1="675.00" x2="457.80" y2="675.00" stroke="#000" stroke-width="2.4" />
<text x="436.77" y="681.00" font-size="10.8" font-weight="bold" fill="#000" textLength="7.38" lengthAdjust="spacingAndGlyphs" >0</text>
<line x1="457.80" y1="675.00" x2="457.80" y2="683.20" stroke="#000" stroke-width="2.4" />
<text x="446.22" y="699.60" font-size="10.8" font-weight="bold" fill="#000" textLength="23.17" lengthAdjust="spacingAndGlyphs" >0.00</text>
<line x1="549.40" y1="675.00" x2="549.40" y2="683.20" stroke="#000" stroke-width="2.4" />
<text x="537.83" y="699.60" font-size="10.8" font-weight="bold" fill="#000" textLength="23.01" lengthAdjust="spacingAndGlyphs" >0.05</text>
<line x1="641.30" y1="675.00" x2="641.30" y2="683.20" stroke="#000" stroke-width="2.4" />
<text x="629.72" y="699.60" font-size="10.8" font-weight="bold" fill="#000" textLength="23.17" lengthAdjust="spacingAndGlyphs" >0.10</text>
<text x="515.42" y="721.30" font-size="11.3" font-weight="bold" fill="#000" textLength="79.41" lengthAdjust="spacingAndGlyphs" >OD at &#160;808 nm</text>
<text x="0" y="0" font-size="11.8" font-weight="bold" fill="#000" textLength="137.11" lengthAdjust="spacingAndGlyphs" transform="translate(408.80,657.40) rotate(-90)">Integrated Fluorescence</text>
<line x1="512.10" y1="609.90" x2="646.20" y2="524.00" stroke="#ff1a1a" stroke-width="1.6" />
<line x1="494.30" y1="663.40" x2="620.30" y2="625.10" stroke="#1010f0" stroke-width="1.5" />
<line x1="475.60" y1="663.40" x2="564.70" y2="652.00" stroke="#10b810" stroke-width="1.5" />
<line x1="480.30" y1="670.80" x2="612.60" y2="663.70" stroke="#a828e8" stroke-width="1.3" />
<path d="M471.85,666.77 L479.35,666.77 L475.60,660.02 Z" fill="#1fbf1f"/>
<path d="M481.15,666.77 L488.65,666.77 L484.90,660.02 Z" fill="#1fbf1f"/>
<path d="M505.45,663.27 L512.95,663.27 L509.20,656.52 Z" fill="#1fbf1f"/>
<path d="M560.95,655.38 L568.45,655.38 L564.70,648.62 Z" fill="#1fbf1f"/>
<path d="M476.55,667.42 L484.05,667.42 L480.30,674.17 Z" fill="#a828e8"/>
<path d="M520.35,664.92 L527.85,664.92 L524.10,671.67 Z" fill="#a828e8"/>
<path d="M548.85,663.83 L556.35,663.83 L552.60,670.58 Z" fill="#a828e8"/>
<path d="M577.55,662.12 L585.05,662.12 L581.30,668.88 Z" fill="#a828e8"/>
<path d="M608.85,660.33 L616.35,660.33 L612.60,667.08 Z" fill="#a828e8"/>
<rect x="490.80" y="659.90" width="7.00" height="7.00" fill="#3a3af8" />
<rect x="514.00" y="654.80" width="7.00" height="7.00" fill="#3a3af8" />
<rect x="537.80" y="643.80" width="7.00" height="7.00" fill="#3a3af8" />
<rect x="594.10" y="627.90" width="7.00" height="7.00" fill="#3a3af8" />
<rect x="616.80" y="621.60" width="7.00" height="7.00" fill="#3a3af8" />
<circle cx="512.1" cy="609.9" r="3.6" fill="#ff3030"/>
<circle cx="535.7" cy="594.3" r="3.6" fill="#ff3030"/>
<circle cx="605.6" cy="544.1" r="3.6" fill="#ff3030"/>
<circle cx="621.5" cy="535.7" r="3.6" fill="#ff3030"/>
<circle cx="646.2" cy="524" r="3.6" fill="#ff3030"/>
<line x1="472.80" y1="487.80" x2="495.70" y2="487.80" stroke="#ff2020" stroke-width="1.3" />
<circle cx="484.4" cy="487.8" r="4.3" fill="#ff3030"/>
<text x="501.65" y="494.80" font-size="10.6" font-weight="bold" fill="#000" textLength="39.08" lengthAdjust="spacingAndGlyphs" >FT-TQT</text>
<line x1="556.00" y1="488.30" x2="579.00" y2="488.30" stroke="#10c010" stroke-width="1.3" />
<path d="M562.70,492.93 L572.10,492.93 L567.40,484.47 Z" fill="#1fbf1f"/>
<text x="591.07" y="494.90" font-size="10.6" font-weight="bold" fill="#000" textLength="31.96" lengthAdjust="spacingAndGlyphs" >CH-4T</text>
<line x1="472.80" y1="516.50" x2="495.70" y2="516.50" stroke="#1515ff" stroke-width="1.3" />
<rect x="480.00" y="512.20" width="8.70" height="8.70" fill="#3a3af8" />
<text x="501.64" y="521.50" font-size="10.6" font-weight="bold" fill="#000" textLength="39.76" lengthAdjust="spacingAndGlyphs" >FT-BBT</text>
<line x1="556.00" y1="516.50" x2="579.00" y2="516.50" stroke="#a828e8" stroke-width="1.3" />
<path d="M563.00,513.16 L572.20,513.16 L567.60,521.44 Z" fill="#a828e8"/>
<text x="591.25" y="522.10" font-size="10.6" font-weight="bold" fill="#000" textLength="30.25" lengthAdjust="spacingAndGlyphs" >IR- 26</text>
<text x="188.09" y="772.80" font-size="11.5" font-weight="bold" fill="#000" textLength="66.61" lengthAdjust="spacingAndGlyphs" >Depth (mm)</text>
<rect x="48.20" y="779.50" width="349.40" height="3.70" fill="#000" />
<text x="62.15" y="803.90" font-size="11.6"  fill="#000" textLength="6.77" lengthAdjust="spacingAndGlyphs" >0</text>
<text x="107.30" y="803.90" font-size="11.6"  fill="#000" textLength="6.77" lengthAdjust="spacingAndGlyphs" >1</text>
<text x="152.77" y="803.90" font-size="11.6"  fill="#000" textLength="6.77" lengthAdjust="spacingAndGlyphs" >2</text>
<text x="198.10" y="803.90" font-size="11.6"  fill="#000" textLength="6.77" lengthAdjust="spacingAndGlyphs" >3</text>
<text x="243.40" y="803.90" font-size="11.6"  fill="#000" textLength="6.77" lengthAdjust="spacingAndGlyphs" >4</text>
<text x="288.67" y="803.90" font-size="11.6"  fill="#000" textLength="6.77" lengthAdjust="spacingAndGlyphs" >5</text>
<text x="333.92" y="803.90" font-size="11.6"  fill="#000" textLength="6.77" lengthAdjust="spacingAndGlyphs" >6</text>
<text x="379.27" y="803.90" font-size="11.6"  fill="#000" textLength="6.77" lengthAdjust="spacingAndGlyphs" >7</text>
<text x="1.76" y="838.90" font-size="10.6" font-weight="bold" fill="#000" textLength="39.05" lengthAdjust="spacingAndGlyphs" >FT-BBT</text>
<text x="1.76" y="882.70" font-size="10.6" font-weight="bold" fill="#ff0000" textLength="38.37" lengthAdjust="spacingAndGlyphs" >FT-TQT</text>
<rect x="43.20" y="811.50" width="43.30" height="43.10" fill="#020d0d" />
<rect x="43.20" y="831.00" width="43.30" height="7.00" fill="#0a3434" opacity="0.54" filter="url(#bl2)"/>
<rect x="43.20" y="833.20" width="43.30" height="2.60" fill="#115858" opacity="0.61" filter="url(#bl3)"/>
<rect x="43.20" y="856.50" width="43.30" height="43.70" fill="#020f0f" />
<rect x="43.20" y="871.20" width="43.30" height="16.00" fill="#0a3c3c" opacity="0.75" filter="url(#bl1)"/>
<rect x="43.20" y="877.00" width="43.30" height="4.40" fill="#1cc8c8" opacity="0.92" filter="url(#bl3)"/>
<rect x="88.50" y="811.50" width="43.30" height="43.10" fill="#020d0d" />
<rect x="88.50" y="831.00" width="43.30" height="7.00" fill="#0a3434" opacity="0.50" filter="url(#bl2)"/>
<rect x="88.50" y="833.20" width="43.30" height="2.60" fill="#115858" opacity="0.56" filter="url(#bl3)"/>
<rect x="88.50" y="856.50" width="43.30" height="43.70" fill="#021010" />
<rect x="88.50" y="871.20" width="43.30" height="16.00" fill="#0a3c3c" opacity="0.71" filter="url(#bl1)"/>
<rect x="88.50" y="877.00" width="43.30" height="4.40" fill="#1cc8c8" opacity="0.87" filter="url(#bl3)"/>
<rect x="133.80" y="811.50" width="43.30" height="43.10" fill="#020e0e" />
<rect x="133.80" y="831.00" width="43.30" height="7.00" fill="#0a3434" opacity="0.42" filter="url(#bl2)"/>
<rect x="133.80" y="833.20" width="43.30" height="2.60" fill="#115858" opacity="0.47" filter="url(#bl3)"/>
<rect x="133.80" y="856.50" width="43.30" height="43.70" fill="#021111" />
<rect x="133.80" y="871.20" width="43.30" height="16.00" fill="#0a3c3c" opacity="0.69" filter="url(#bl1)"/>
<rect x="133.80" y="877.00" width="43.30" height="4.40" fill="#1cc8c8" opacity="0.85" filter="url(#bl3)"/>
<rect x="179.10" y="811.50" width="43.30" height="43.10" fill="#020f0f" />
<rect x="179.10" y="831.00" width="43.30" height="7.00" fill="#0a3434" opacity="0.29" filter="url(#bl2)"/>
<rect x="179.10" y="833.20" width="43.30" height="2.60" fill="#115858" opacity="0.32" filter="url(#bl3)"/>
<rect x="179.10" y="856.50" width="43.30" height="43.70" fill="#031515" />
<rect x="179.10" y="871.20" width="43.30" height="16.00" fill="#0a3c3c" opacity="0.41" filter="url(#bl1)"/>
<rect x="179.10" y="877.00" width="43.30" height="4.40" fill="#1cc8c8" opacity="0.51" filter="url(#bl2)"/>
<rect x="224.40" y="811.50" width="43.30" height="43.10" fill="#041f1f" />
<rect x="224.40" y="831.00" width="43.30" height="7.00" fill="#0a3434" opacity="0.10" filter="url(#bl2)"/>
<rect x="224.40" y="833.20" width="43.30" height="2.60" fill="#115858" opacity="0.11" filter="url(#bl3)"/>
<rect x="224.40" y="856.50" width="43.30" height="43.70" fill="#082828" />
<rect x="224.40" y="871.20" width="43.30" height="16.00" fill="#0a3c3c" opacity="0.26" filter="url(#bl1)"/>
<rect x="224.40" y="877.00" width="43.30" height="4.40" fill="#1cc8c8" opacity="0.32" filter="url(#bl2)"/>
<rect x="269.70" y="811.50" width="43.30" height="43.10" fill="#020f0f" />
<rect x="269.70" y="831.00" width="43.30" height="7.00" fill="#0a3434" opacity="0.05" filter="url(#bl2)"/>
<rect x="269.70" y="833.20" width="43.30" height="2.60" fill="#115858" opacity="0.05" filter="url(#bl3)"/>
<rect x="269.70" y="856.50" width="43.30" height="43.70" fill="#051a1a" />
<rect x="269.70" y="871.20" width="43.30" height="16.00" fill="#0a3c3c" opacity="0.26" filter="url(#bl1)"/>
<rect x="269.70" y="877.00" width="43.30" height="4.40" fill="#1cc8c8" opacity="0.32" filter="url(#bl2)"/>
<rect x="315.00" y="811.50" width="43.30" height="43.10" fill="#052020" />
<rect x="315.00" y="856.50" width="43.30" height="43.70" fill="url(#h2g6)" />
<rect x="315.00" y="872.00" width="43.30" height="16.00" fill="#0a3c3c" opacity="0.29" filter="url(#bl1)"/>
<rect x="315.00" y="877.80" width="43.30" height="4.40" fill="#1cc8c8" opacity="0.35" filter="url(#bl2)"/>
<rect x="360.30" y="811.50" width="43.30" height="43.10" fill="#031818" />
<rect x="360.30" y="856.50" width="43.30" height="43.70" fill="#082b2b" />
<line x1="471.00" y1="754.90" x2="471.00" y2="873.60" stroke="#000" stroke-width="2.4" />
<line x1="464.20" y1="872.40" x2="662.80" y2="872.40" stroke="#000" stroke-width="2.4" />
<line x1="464.40" y1="756.10" x2="471.00" y2="756.10" stroke="#000" stroke-width="2.4" />
<text x="450.18" y="761.20" font-size="10.8" font-weight="bold" fill="#000" textLength="6.22" lengthAdjust="spacingAndGlyphs" >6</text>
<line x1="464.40" y1="794.90" x2="471.00" y2="794.90" stroke="#000" stroke-width="2.4" />
<text x="450.45" y="798.10" font-size="10.8" font-weight="bold" fill="#000" textLength="5.61" lengthAdjust="spacingAndGlyphs" >4</text>
<line x1="464.40" y1="833.60" x2="471.00" y2="833.60" stroke="#000" stroke-width="2.4" />
<text x="450.21" y="837.40" font-size="10.8" font-weight="bold" fill="#000" textLength="6.22" lengthAdjust="spacingAndGlyphs" >2</text>
<line x1="464.40" y1="872.40" x2="471.00" y2="872.40" stroke="#000" stroke-width="2.4" />
<text x="450.15" y="876.90" font-size="10.8" font-weight="bold" fill="#000" textLength="6.32" lengthAdjust="spacingAndGlyphs" >0</text>
<line x1="470.80" y1="872.40" x2="470.80" y2="878.00" stroke="#000" stroke-width="2.4" />
<text x="467.11" y="892.00" font-size="10.8" font-weight="bold" fill="#000" textLength="6.79" lengthAdjust="spacingAndGlyphs" >0</text>
<line x1="518.80" y1="872.40" x2="518.80" y2="878.00" stroke="#000" stroke-width="2.4" />
<text x="515.18" y="892.00" font-size="10.8" font-weight="bold" fill="#000" textLength="6.69" lengthAdjust="spacingAndGlyphs" >2</text>
<line x1="566.80" y1="872.40" x2="566.80" y2="878.00" stroke="#000" stroke-width="2.4" />
<text x="563.44" y="892.00" font-size="10.8" font-weight="bold" fill="#000" textLength="6.03" lengthAdjust="spacingAndGlyphs" >4</text>
<line x1="614.80" y1="872.40" x2="614.80" y2="878.00" stroke="#000" stroke-width="2.4" />
<text x="611.15" y="892.00" font-size="10.8" font-weight="bold" fill="#000" textLength="6.69" lengthAdjust="spacingAndGlyphs" >6</text>
<line x1="662.80" y1="872.40" x2="662.80" y2="878.00" stroke="#000" stroke-width="2.4" />
<text x="659.22" y="892.00" font-size="10.8" font-weight="bold" fill="#000" textLength="6.55" lengthAdjust="spacingAndGlyphs" >8</text>
<text x="530.59" y="907.20" font-size="11.5" font-weight="bold" fill="#000" textLength="79.62" lengthAdjust="spacingAndGlyphs" >Position (mm)</text>
<text x="0" y="0" font-size="11.5" font-weight="bold" fill="#000" textLength="69.50" lengthAdjust="spacingAndGlyphs" transform="translate(435.20,849.40) rotate(-90)">FWHM (mm)</text>
<polyline points="470.80,849.04 494.80,849.62 518.80,848.27 542.80,843.25 566.80,844.22" fill="none" stroke="#1010ff" stroke-width="1.8" stroke-linejoin="round" />
<circle cx="470.80" cy="849.04" r="2.7" fill="none" stroke="#1010ff" stroke-width="1.5"/>
<circle cx="494.80" cy="849.62" r="2.7" fill="none" stroke="#1010ff" stroke-width="1.5"/>
<circle cx="518.80" cy="848.27" r="2.7" fill="none" stroke="#1010ff" stroke-width="1.5"/>
<circle cx="542.80" cy="843.25" r="2.7" fill="none" stroke="#1010ff" stroke-width="1.5"/>
<circle cx="566.80" cy="844.22" r="2.7" fill="none" stroke="#1010ff" stroke-width="1.5"/>
<polyline points="470.80,848.85 494.80,848.08 518.80,847.50 542.80,842.29 566.80,833.99 590.80,820.09 614.80,804.26 638.80,777.63" fill="none" stroke="#ff1a1a" stroke-width="2.1" stroke-linejoin="round" />
<line x1="468.80" y1="847.85" x2="472.80" y2="847.85" stroke="#ff1a1a" stroke-width="0.9" />
<line x1="468.80" y1="849.85" x2="472.80" y2="849.85" stroke="#ff1a1a" stroke-width="0.9" />
<rect x="467.90" y="845.95" width="5.8" height="5.8" fill="none" stroke="#ff1a1a" stroke-width="1.5"/>
<line x1="492.80" y1="847.08" x2="496.80" y2="847.08" stroke="#ff1a1a" stroke-width="0.9" />
<line x1="492.80" y1="849.08" x2="496.80" y2="849.08" stroke="#ff1a1a" stroke-width="0.9" />
<rect x="491.90" y="845.18" width="5.8" height="5.8" fill="none" stroke="#ff1a1a" stroke-width="1.5"/>
<line x1="516.80" y1="846.50" x2="520.80" y2="846.50" stroke="#ff1a1a" stroke-width="0.9" />
<line x1="516.80" y1="848.50" x2="520.80" y2="848.50" stroke="#ff1a1a" stroke-width="0.9" />
<rect x="515.90" y="844.60" width="5.8" height="5.8" fill="none" stroke="#ff1a1a" stroke-width="1.5"/>
<line x1="540.80" y1="841.29" x2="544.80" y2="841.29" stroke="#ff1a1a" stroke-width="0.9" />
<line x1="540.80" y1="843.29" x2="544.80" y2="843.29" stroke="#ff1a1a" stroke-width="0.9" />
<rect x="539.90" y="839.39" width="5.8" height="5.8" fill="none" stroke="#ff1a1a" stroke-width="1.5"/>
<line x1="564.80" y1="832.99" x2="568.80" y2="832.99" stroke="#ff1a1a" stroke-width="0.9" />
<line x1="564.80" y1="834.99" x2="568.80" y2="834.99" stroke="#ff1a1a" stroke-width="0.9" />
<rect x="563.90" y="831.09" width="5.8" height="5.8" fill="none" stroke="#ff1a1a" stroke-width="1.5"/>
<line x1="590.80" y1="816.23" x2="590.80" y2="823.95" stroke="#ff1a1a" stroke-width="1.3" />
<line x1="588.20" y1="816.23" x2="593.40" y2="816.23" stroke="#ff1a1a" stroke-width="1.3" />
<line x1="588.20" y1="823.95" x2="593.40" y2="823.95" stroke="#ff1a1a" stroke-width="1.3" />
<rect x="587.90" y="817.19" width="5.8" height="5.8" fill="none" stroke="#ff1a1a" stroke-width="1.5"/>
<line x1="612.80" y1="803.26" x2="616.80" y2="803.26" stroke="#ff1a1a" stroke-width="0.9" />
<line x1="612.80" y1="805.26" x2="616.80" y2="805.26" stroke="#ff1a1a" stroke-width="0.9" />
<rect x="611.90" y="801.36" width="5.8" height="5.8" fill="none" stroke="#ff1a1a" stroke-width="1.5"/>
<line x1="638.80" y1="767.98" x2="638.80" y2="787.28" stroke="#ff1a1a" stroke-width="1.3" />
<line x1="636.20" y1="767.98" x2="641.40" y2="767.98" stroke="#ff1a1a" stroke-width="1.3" />
<line x1="636.20" y1="787.28" x2="641.40" y2="787.28" stroke="#ff1a1a" stroke-width="1.3" />
<rect x="635.90" y="774.73" width="5.8" height="5.8" fill="none" stroke="#ff1a1a" stroke-width="1.5"/>
<line x1="491.10" y1="759.20" x2="514.40" y2="759.20" stroke="#1010ff" stroke-width="1.5" />
<circle cx="502.6" cy="759.2" r="3.6" fill="none" stroke="#1010ff" stroke-width="1.5"/>
<text x="523.60" y="766.00" font-size="11.4" font-weight="bold" fill="#000" textLength="42.12" lengthAdjust="spacingAndGlyphs" >FT-BBT</text>
<line x1="491.10" y1="788.00" x2="514.40" y2="788.00" stroke="#ff1a1a" stroke-width="1.5" />
<rect x="498.8" y="784.0" width="8.2" height="8.2" fill="none" stroke="#ff1a1a" stroke-width="1.5"/>
<text x="523.60" y="794.60" font-size="11.4" font-weight="bold" fill="#ff0000" textLength="41.54" lengthAdjust="spacingAndGlyphs" >FT-TQT</text></svg>
</body></html>
